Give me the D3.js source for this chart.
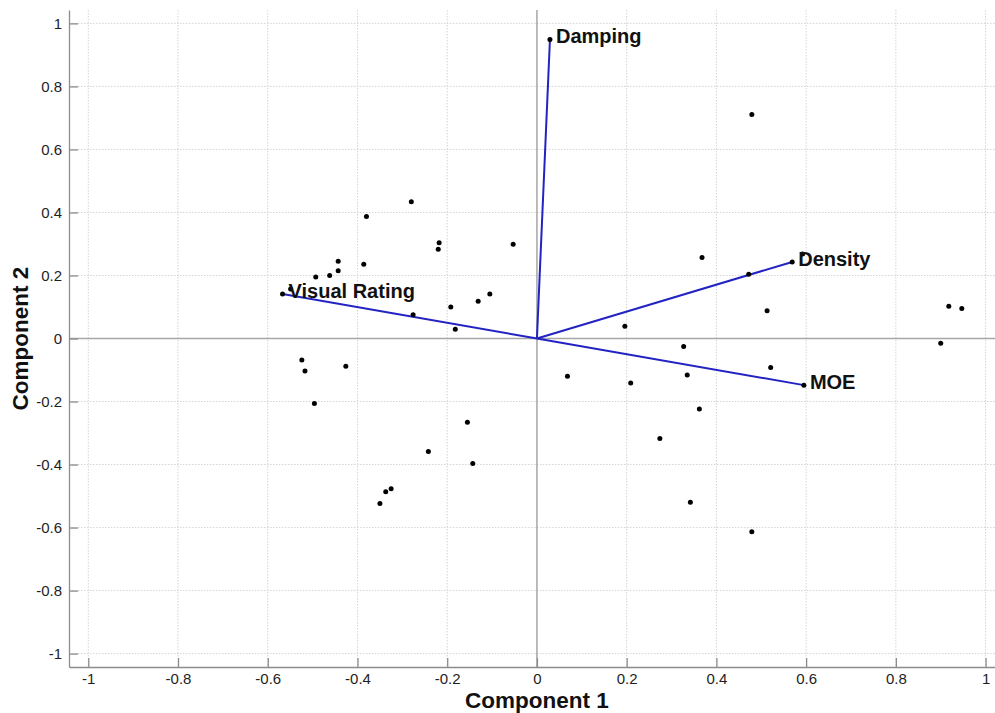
<!DOCTYPE html>
<html>
<head>
<meta charset="utf-8">
<script src="https://cdn.jsdelivr.net/npm/d3@7"></script>
<style>
  body { margin: 0; background: #fff; }
  svg { display: block; font-family: "Liberation Sans", Arial, sans-serif; }
  .grid line { stroke: #d4d4d4; stroke-dasharray: 1.5 1.5; }
  .axis text { font-size: 15px; fill: #1e1e1e; }
  .axis path, .axis line { stroke: #8c8c8c; stroke-width: 1.3; }
</style>
</head>
<body>
<svg width="995" height="713"></svg>
<script>
// Loadings (vectors) from the biplot
const varNames = ["Damping", "Density", "MOE", "Visual Rating"];
const varX = [0.029, 0.569, 0.595, -0.567];
const varY = [0.949, 0.243, -0.148, 0.141];

// Scores (observations)
const scoreX = [-0.280, -0.380, -0.218, -0.220, -0.053, -0.443, -0.443, -0.386, -0.462, -0.493,
                -0.549, -0.105, -0.131, -0.192, -0.276, -0.182, -0.524, -0.517, -0.426, -0.496,
                -0.155, -0.242, -0.143, -0.325, -0.337, -0.350,
                0.479, 0.368, 0.472, 0.592, 0.513, 0.196, 0.327, 0.068, 0.209, 0.335,
                0.521, 0.362, 0.274, 0.342, 0.479, 0.918, 0.947, 0.900];
const scoreY = [0.434, 0.387, 0.304, 0.283, 0.299, 0.245, 0.215, 0.236, 0.200, 0.195,
                0.157, 0.141, 0.118, 0.100, 0.075, 0.029, -0.068, -0.103, -0.088, -0.206,
                -0.266, -0.359, -0.397, -0.477, -0.486, -0.524,
                0.711, 0.257, 0.204, 0.268, 0.088, 0.039, -0.025, -0.120, -0.141, -0.116,
                -0.092, -0.224, -0.317, -0.520, -0.613, 0.102, 0.095, -0.015];

const ticks = [-1, -0.8, -0.6, -0.4, -0.2, 0, 0.2, 0.4, 0.6, 0.8, 1];

const svg = d3.select("svg");
const margin = { left: 69, right: 995, top: 10, bottom: 667 };

const x = d3.scaleLinear().domain([-1.043, 1.021]).range([margin.left, margin.right]);
const y = d3.scaleLinear().domain([-1.0425, 1.0425]).range([margin.bottom, margin.top]);

// Grid
const grid = svg.append("g").attr("class", "grid");
grid.selectAll(".gx").data(ticks.filter(d => d !== 0)).join("line")
    .attr("class", "gx")
    .attr("x1", d => x(d)).attr("x2", d => x(d))
    .attr("y1", margin.top).attr("y2", margin.bottom);
grid.selectAll(".gy").data(ticks.filter(d => d !== 0)).join("line")
    .attr("class", "gy")
    .attr("x1", margin.left).attr("x2", margin.right)
    .attr("y1", d => y(d)).attr("y2", d => y(d));

// Zero lines
svg.append("line")
   .attr("x1", x(0)).attr("x2", x(0)).attr("y1", margin.top).attr("y2", margin.bottom)
   .attr("stroke", "#a6a6a6").attr("stroke-width", 1.5);
svg.append("line")
   .attr("x1", margin.left).attr("x2", margin.right).attr("y1", y(0)).attr("y2", y(0))
   .attr("stroke", "#a6a6a6").attr("stroke-width", 1.5);

// Axes (ticks pointing inward), plain hyphen for minus like the original
const fmt = d => String(d);
svg.append("g")
   .attr("class", "axis")
   .attr("transform", "translate(0," + margin.bottom + ")")
   .call(d3.axisBottom(x).tickValues(ticks).tickFormat(fmt).tickSizeInner(-9).tickSizeOuter(0))
   .call(g => g.selectAll("text").attr("dy", "0.71em").attr("y", 6));
svg.append("g")
   .attr("class", "axis")
   .attr("transform", "translate(" + margin.left + ",0)")
   .call(d3.axisLeft(y).tickValues(ticks).tickFormat(fmt).tickSizeInner(-9).tickSizeOuter(0))
   .call(g => g.selectAll("text").attr("x", -7));

// Vectors
svg.append("g").selectAll("line").data(varNames).join("line")
   .attr("x1", x(0)).attr("y1", y(0))
   .attr("x2", (d, i) => x(varX[i])).attr("y2", (d, i) => y(varY[i]))
   .attr("stroke", "#2323c4").attr("stroke-width", 2);

// Scores
svg.append("g").selectAll("circle").data(scoreX).join("circle")
   .attr("cx", d => x(d)).attr("cy", (d, i) => y(scoreY[i]))
   .attr("r", 2.5).attr("fill", "#000");

// Vector end dots and labels
svg.append("g").selectAll("circle").data(varNames).join("circle")
   .attr("cx", (d, i) => x(varX[i])).attr("cy", (d, i) => y(varY[i]))
   .attr("r", 2.5).attr("fill", "#000");
svg.append("g").selectAll("text").data(varNames).join("text")
   .attr("x", (d, i) => x(varX[i]) + 6)
   .attr("y", (d, i) => y(varY[i]) + 4)
   .attr("font-size", "20px").attr("font-weight", "bold").attr("fill", "#111")
   .text(d => d);

// Axis titles
svg.append("text")
   .attr("x", x(0)).attr("y", 708)
   .attr("text-anchor", "middle")
   .attr("font-size", "22.5px").attr("font-weight", "bold").attr("fill", "#111")
   .text("Component 1");
svg.append("text")
   .attr("transform", "translate(28," + y(0) + ") rotate(-90)")
   .attr("text-anchor", "middle")
   .attr("font-size", "22.5px").attr("font-weight", "bold").attr("fill", "#111")
   .text("Component 2");
</script>
</body>
</html>
